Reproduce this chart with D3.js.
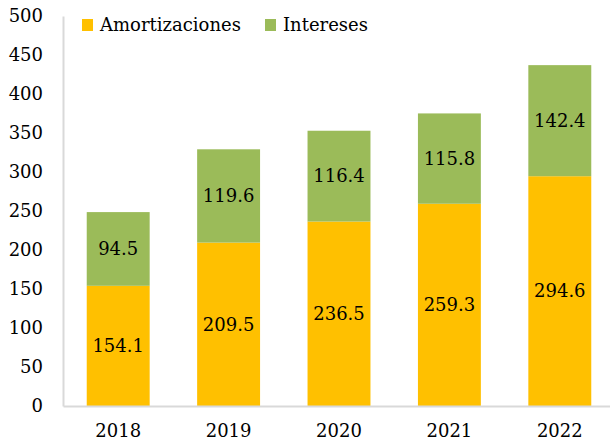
<!DOCTYPE html>
<html>
<head>
<meta charset="utf-8">
<script src="https://cdn.jsdelivr.net/npm/d3@7"></script>
<style>
  body { margin: 0; background: #fff; }
</style>
</head>
<body>
<div id="chart"></div>
<script>
// data
var years = ["2018", "2019", "2020", "2021", "2022"];
var amortizaciones = [154.1, 209.5, 236.5, 259.3, 294.6];
var intereses = [94.5, 119.6, 116.4, 115.8, 142.4];
var seriesNames = ["Amortizaciones", "Intereses"];
var seriesColors = ["#FFC000", "#9BBB59"];
var yTicks = [0, 50, 100, 150, 200, 250, 300, 350, 400, 450, 500];

var FONT = "DejaVu Serif";

var width = 610, height = 446;
var margin = {top: 16, right: -5, bottom: 40, left: 63};
var innerW = width - margin.left - margin.right,
    innerH = height - margin.top - margin.bottom;

var svg = d3.select("#chart").append("svg")
    .attr("width", width)
    .attr("height", height)
    .attr("font-family", FONT);

var g = svg.append("g")
    .attr("transform", "translate(" + margin.left + "," + margin.top + ")");

var x = d3.scaleBand()
    .domain(years)
    .range([0, innerW])
    .paddingInner(0.43)
    .paddingOuter(0.215);

var y = d3.scaleLinear()
    .domain([0, 500])
    .range([innerH, 0]);

var rows = years.map(function(yr, i) {
    return {year: yr, Amortizaciones: amortizaciones[i], Intereses: intereses[i]};
});
var stack = d3.stack().keys(seriesNames)(rows);

// bars
var layers = g.selectAll(".layer")
    .data(stack)
    .enter().append("g")
    .attr("class", "layer")
    .style("fill", function(d, i) { return seriesColors[i]; });

layers.selectAll("rect")
    .data(function(d) { return d; })
    .enter().append("rect")
    .attr("x", function(d) { return x(d.data.year); })
    .attr("width", x.bandwidth())
    .attr("y", function(d) { return y(d[1]); })
    .attr("height", function(d) { return y(d[0]) - y(d[1]); });

// value labels
layers.selectAll(".val")
    .data(function(d) { return d; })
    .enter().append("text")
    .attr("class", "val")
    .attr("x", function(d) { return x(d.data.year) + x.bandwidth() / 2; })
    .attr("y", function(d) { return (y(d[0]) + y(d[1])) / 2; })
    .attr("dy", "0.35em")
    .attr("text-anchor", "middle")
    .attr("font-family", FONT)
    .style("font-size", "18px")
    .style("fill", "#000")
    .text(function(d) { return (d[1] - d[0]).toFixed(1); });

// axes
var yAxis = d3.axisLeft(y).tickValues(yTicks).tickSize(0).tickPadding(20);
var yG = g.append("g").attr("class", "y-axis").call(yAxis).attr("font-family", FONT);
yG.select(".domain").attr("stroke", "#d9d9d9").attr("stroke-width", 2);
yG.selectAll("text").style("font-size", "18px").attr("fill", "#000");

var xAxis = d3.axisBottom(x).tickSize(0).tickPadding(18);
var xG = g.append("g").attr("class", "x-axis")
    .attr("transform", "translate(0," + innerH + ")")
    .call(xAxis).attr("font-family", FONT);
xG.select(".domain").attr("stroke", "#d9d9d9").attr("stroke-width", 2);
xG.selectAll("text").style("font-size", "18px").attr("fill", "#000");

// legend
var legendX = [82, 265];
var legend = svg.selectAll(".legend")
    .data(seriesNames)
    .enter().append("g")
    .attr("class", "legend")
    .attr("transform", function(d, i) { return "translate(" + legendX[i] + ",19)"; });

legend.append("rect")
    .attr("width", 11)
    .attr("height", 12)
    .style("fill", function(d, i) { return seriesColors[i]; });

legend.append("text")
    .attr("x", 18)
    .attr("y", 12)
    .attr("font-family", FONT)
    .style("font-size", "18px")
    .text(function(d) { return d; });
</script>
</body>
</html>
